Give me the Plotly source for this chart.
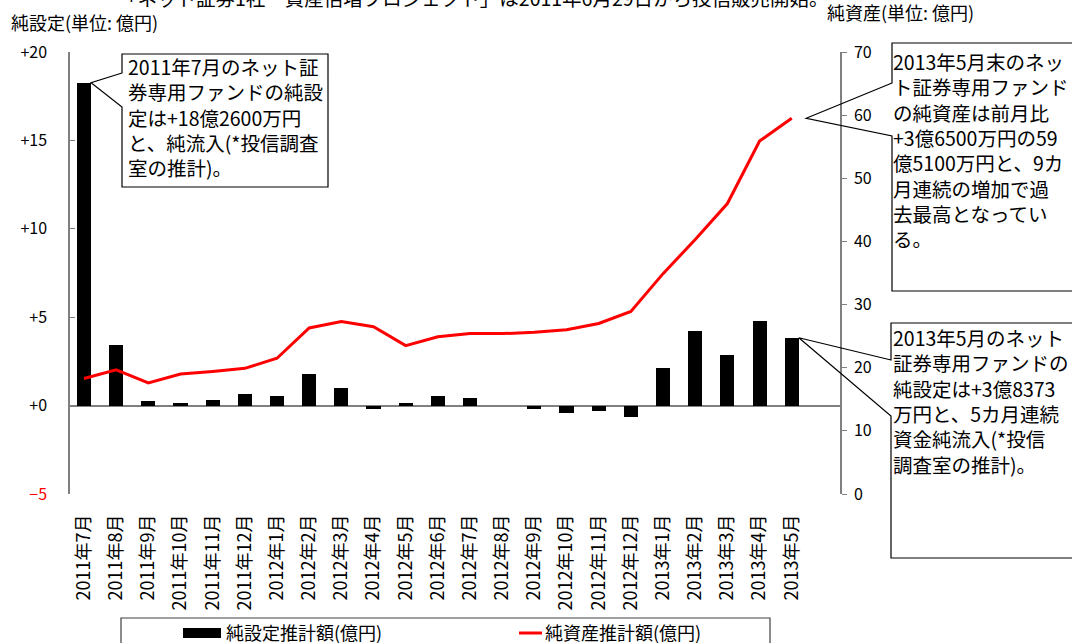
import plotly.graph_objects as go

months = ["2011年7月", "2011年8月", "2011年9月", "2011年10月", "2011年11月", "2011年12月",
          "2012年1月", "2012年2月", "2012年3月", "2012年4月", "2012年5月", "2012年6月",
          "2012年7月", "2012年8月", "2012年9月", "2012年10月", "2012年11月", "2012年12月",
          "2013年1月", "2013年2月", "2013年3月", "2013年4月", "2013年5月"]
net_flows = [18.26, 3.42, 0.28, 0.17, 0.34, 0.68, 0.56, 1.81, 1.02, -0.17, 0.17, 0.56,
             0.45, 0.0, -0.17, -0.43, -0.28, -0.66, 2.15, 4.24, 2.88, 4.80, 3.84]
net_assets = [18.3, 19.65, 17.6, 19.0, 19.4, 19.9, 21.5, 26.3, 27.3, 26.5, 23.5, 24.9,
              25.4, 25.4, 25.6, 26.0, 27.0, 28.9, 34.9, 40.3, 46.0, 55.9, 59.51]
left_ticks = [-5, 0, 5, 10, 15, 20]
left_ticktext = ['<span style="color:#ff0000">−5</span>', "+0", "+5", "+10", "+15", "+20"]
right_ticks = [0, 10, 20, 30, 40, 50, 60, 70]

bar_name = "純設定推計額(億円)"
line_name = "純資産推計額(億円)"
title_text = "「ネット証券1社・資産倍増プロジェクト」は2011年6月29日から投信販売開始。"
left_title = "純設定(単位: 億円)"
right_title = "純資産(単位: 億円)"
note1 = ["2011年7月のネット証", "券専用ファンドの純設", "定は+18億2600万円", "と、純流入(*投信調査", "室の推計)。"]
note2 = ["2013年5月末のネッ", "ト証券専用ファンド", "の純資産は前月比", "+3億6500万円の59", "億5100万円と、9カ",
         "月連続の増加で過", "去最高となってい", "る。"]
note3 = ["2013年5月のネット", "証券専用ファンドの", "純設定は+3億8373", "万円と、5カ月連続", "資金純流入(*投信", "調査室の推計)。"]

FONT = "Noto Sans CJK JP"
W, H = 1072, 643
L, R, T, B = 70, 840, 52, 494
XR = [-0.435, 23.5]
Y1R = [-5, 20]
Y2R = [0, 70]
BW = 0.44


def px(x):
    return (x - L) / (R - L)


def py(y):
    return (B - y) / (B - T)


def dx(v):
    return (v - XR[0]) / (XR[1] - XR[0])


def dy1(v):
    return (v - Y1R[0]) / (Y1R[1] - Y1R[0])


def dy2(v):
    return (v - Y2R[0]) / (Y2R[1] - Y2R[0])


fig = go.Figure()
fig.add_trace(go.Bar(x=months, y=net_flows, marker=dict(color="black", line=dict(width=0)),
                     width=BW, name=bar_name, yaxis="y"))
fig.add_trace(go.Scatter(x=months, y=net_assets, mode="lines", line=dict(color="#ff0000", width=3),
                         name=line_name, yaxis="y2"))

shapes = []
annotations = []


def callout(left, top, right, bottom, gt, gb, tx, ty, lines, text_left, text_top):
    l, t, r, b = px(left), py(top), px(right), py(bottom)
    shapes.append(dict(type="rect", xref="paper", yref="paper", x0=l, x1=r, y0=b, y1=t,
                       fillcolor="white", line=dict(width=0), layer="above"))
    path = (f"M {l},{py(gt)} L {tx},{ty} L {l},{py(gb)} L {l},{b} L {r},{b} L {r},{t} L {l},{t} Z")
    shapes.append(dict(type="path", xref="paper", yref="paper", path=path,
                       fillcolor="rgba(0,0,0,0)", line=dict(color="black", width=1.2), layer="above"))
    annotations.append(dict(xref="paper", yref="paper", x=px(text_left), y=py(text_top),
                            xanchor="left", yanchor="top", align="left", showarrow=False,
                            text="<br>".join(lines), font=dict(family=FONT, size=19.5, color="black")))


callout(122, 54, 328, 187, 73, 107, dx(0 + BW / 2), dy1(net_flows[0]), note1, 126, 50)
callout(892, 43, 1095, 291, 83, 136, dx(22.45), dy2(net_assets[-1]), note2, 891, 45)
callout(891, 323, 1095, 558, 360, 416, dx(22 + BW / 2), dy1(net_flows[-1]), note3, 891, 321)

# legend
shapes.append(dict(type="rect", xref="paper", yref="paper", x0=px(121), x1=px(770), y0=py(670), y1=py(618),
                   line=dict(color="#404040", width=1.2), fillcolor="white"))
shapes.append(dict(type="rect", xref="paper", yref="paper", x0=px(183), x1=px(221), y0=py(638), y1=py(628),
                   line=dict(width=0), fillcolor="black"))
shapes.append(dict(type="line", xref="paper", yref="paper", x0=px(519), x1=px(542), y0=py(633), y1=py(633),
                   line=dict(color="#ff0000", width=3)))
annotations.append(dict(xref="paper", yref="paper", x=px(224), y=py(632), xanchor="left", yanchor="middle",
                        showarrow=False, text=bar_name, font=dict(family=FONT, size=18, color="black")))
annotations.append(dict(xref="paper", yref="paper", x=px(543), y=py(632), xanchor="left", yanchor="middle",
                        showarrow=False, text=line_name, font=dict(family=FONT, size=18, color="black")))

# titles
annotations.append(dict(xref="paper", yref="paper", x=px(116), y=py(-3), xanchor="left", yanchor="middle",
                        showarrow=False, text=title_text, font=dict(family=FONT, size=19.5, color="black")))
annotations.append(dict(xref="paper", yref="paper", x=px(9), y=py(22), xanchor="left", yanchor="middle",
                        showarrow=False, text=left_title, font=dict(family=FONT, size=18, color="black")))
annotations.append(dict(xref="paper", yref="paper", x=px(825), y=py(12), xanchor="left", yanchor="middle",
                        showarrow=False, text=right_title, font=dict(family=FONT, size=18, color="black")))

fig.update_layout(
    width=W, height=H,
    margin=dict(l=L, r=W - R, t=T, b=H - B, pad=0),
    paper_bgcolor="white", plot_bgcolor="white",
    showlegend=False,
    font=dict(family=FONT, size=16, color="black"),
    bargap=0,
    xaxis=dict(type="category", range=XR, showgrid=False, showline=False, zeroline=False,
               tickangle=-90, ticks="", tickfont=dict(size=18), ticklabelstandoff=16),
    yaxis=dict(range=Y1R, tickvals=left_ticks, ticktext=left_ticktext, ticks="inside", ticklen=5,
               tickcolor="#808080", showline=True, linecolor="#808080", linewidth=1.5,
               showgrid=False, zeroline=True, zerolinecolor="#808080", zerolinewidth=1.5,
               tickfont=dict(size=16), ticklabelstandoff=18),
    yaxis2=dict(range=Y2R, tickvals=right_ticks, overlaying="y", side="right", ticks="outside", ticklen=5,
                tickcolor="#808080", showline=True, linecolor="#808080", linewidth=1.5,
                showgrid=False, zeroline=False, tickfont=dict(size=16), ticklabelstandoff=4),
    shapes=shapes,
    annotations=annotations,
)

fig.write_html("out.html")
